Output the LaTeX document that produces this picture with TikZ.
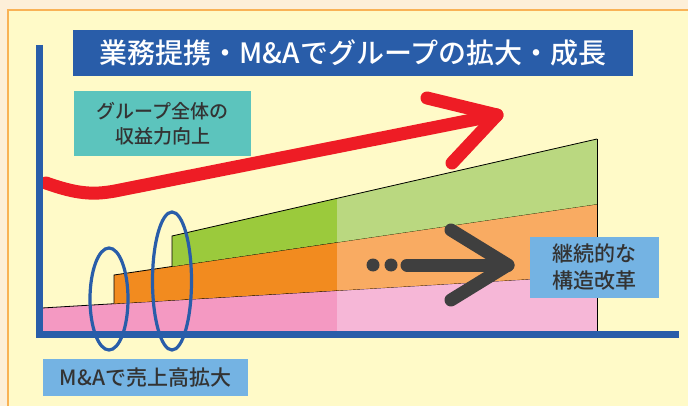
\documentclass[tikz,border=0pt]{standalone}
\usepackage{fontspec}
\usepackage{tikz}
\newfontfamily\jpfont{Noto Sans CJK JP Medium}
\definecolor{bgpeach}{HTML}{FDEFD8}
\definecolor{panel}{HTML}{FFFAC8}
\definecolor{panelline}{HTML}{F9B256}
\definecolor{axisblue}{HTML}{295DA9}
\definecolor{tealbox}{HTML}{5CC4BD}
\definecolor{skybox}{HTML}{74B3E3}
\definecolor{arrred}{HTML}{EE1C25}
\definecolor{arrgray}{HTML}{3F3F3F}
\definecolor{txtgray}{HTML}{333333}
\definecolor{pinkD}{HTML}{F499C2}
\definecolor{pinkL}{HTML}{F6B7D7}
\definecolor{orangeD}{HTML}{F28B1F}
\definecolor{orangeL}{HTML}{F9AB62}
\definecolor{greenD}{HTML}{9BCA3C}
\definecolor{greenL}{HTML}{BAD880}
\begin{document}
\begin{tikzpicture}[x=1pt,y=-1pt,
  lbl/.style n args={5}{fill=#1,minimum width=#2,minimum height=#3,inner sep=0pt,align=center,text=txtgray,font=\jpfont\fontsize{#4}{#5}\selectfont},
  edge/.style={black,line width=0.8},
  ring/.style={axisblue,line width=3.2},
  fat/.style={#1,line width=13,line cap=round,line join=round}]
\useasboundingbox (0,0) rectangle (688,406);
\fill[bgpeach] (0,0) rectangle (688,406);
\filldraw[fill=panel,draw=panelline,line width=1.2] (8,10) rectangle (700,420);
\foreach \xl/\bl/\tl/\br/\tr/\dk/\lt in %
{42/331/308/331/275/pinkD/pinkL,114/303.7/275/275/204/orangeD/orangeL,172/266.5/236/204/139/greenD/greenL} {
   \fill[\dk] (\xl,\bl) -- (\xl,\tl) -- (597,\tr) -- (597,\br) -- cycle;
   \begin{scope}
      \clip (337,0) rectangle (600,340);
      \fill[\lt] (\xl,\bl) -- (\xl,\tl) -- (597,\tr) -- (597,\br) -- cycle;
   \end{scope}
   \draw[edge] (\xl,\bl) -- (\xl,\tl) -- (597,\tr);
}
\draw[edge] (597,139) -- (597,331);
\coordinate (redtip) at (497,115);
\draw[fat=arrred] (46,183) .. controls (77,194) and (93,195) .. (115,191) -- (redtip);
\draw[fat=arrred] (427,98) -- (redtip) -- (452,163);
\draw[axisblue,line width=7] (39.5,45) -- (39.5,334.5) -- (679,334.5);
\node[lbl={axisblue}{560}{46}{28}{32},text=white] (title) at (353,53) {業務提携・M\&Aでグループの拡大・成長};
\node[lbl={tealbox}{177}{65}{19}{25}] (gain) at (162.5,123.5) {グループ全体の\\収益力向上};
\node[lbl={skybox}{129}{61}{21}{27}] (reform) at (594.5,267.5) {継続的な\\構造改革};
\node[lbl={skybox}{205}{37}{21}{27}] (mna) at (145.5,377.5) {M\&Aで売上高拡大};
\coordinate (graytip) at (508,265);
\foreach \x in {373,391} {
   \fill[arrgray] (\x,265) circle [radius=6.5];
}
\draw[fat=arrgray] (407,265) -- (graytip);
\draw[fat=arrgray] (451,230) -- (graytip) -- (451,300);
\draw[ring] (109,299) ellipse [x radius=19,y radius=51];
\draw[ring] (172,281) ellipse [x radius=19.5,y radius=69];
\end{tikzpicture}
\end{document}
